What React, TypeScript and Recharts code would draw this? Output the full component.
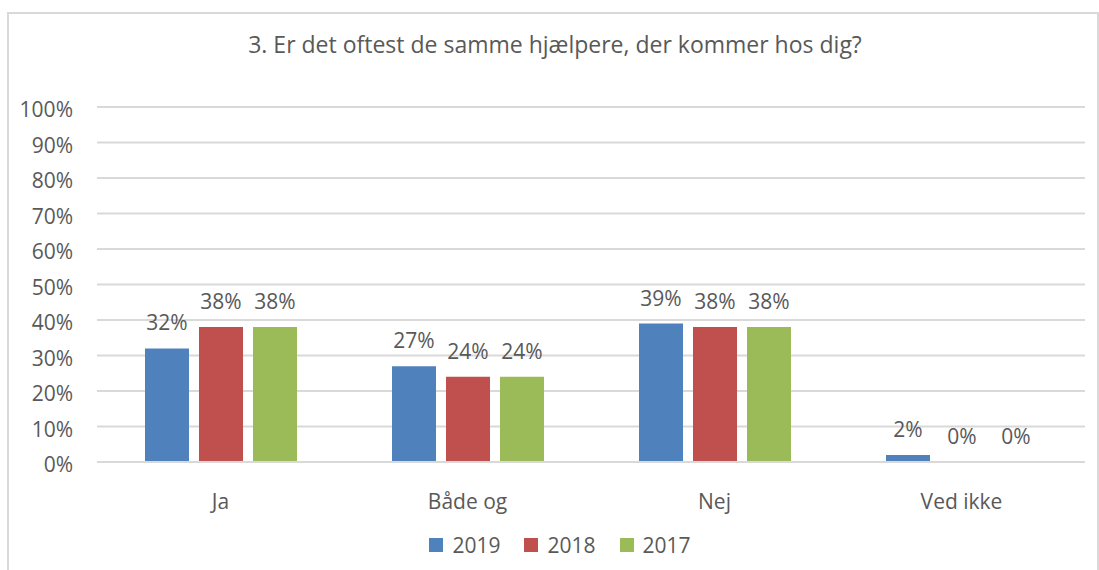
import { BarChart, Bar, XAxis, YAxis, CartesianGrid, Legend, LabelList } from "recharts";

const categories = ["Ja", "Både og", "Nej", "Ved ikke"];
const values2019 = [32, 27, 39, 2];
const values2018 = [38, 24, 38, 0];
const values2017 = [38, 24, 38, 0];
const yTicks = [0, 10, 20, 30, 40, 50, 60, 70, 80, 90, 100];

const series = [
  { key: "2019", color: "#4F81BD" },
  { key: "2018", color: "#C0504D" },
  { key: "2017", color: "#9BBB59" },
];

const data = categories.map((name, i) => ({
  name,
  "2019": values2019[i],
  "2018": values2018[i],
  "2017": values2017[i],
}));

const FONT = "'Open Sans', sans-serif";
const TEXT = "#595959";

function LegendContent() {
  return (
    <div style={{ display: "flex", justifyContent: "center", fontFamily: FONT, fontSize: 21, color: TEXT }}>
      {series.map((s) => (
        <div key={s.key} style={{ display: "flex", alignItems: "center", margin: "0 12px" }}>
          <span style={{ display: "inline-block", width: 14, height: 14, background: s.color, marginRight: 9 }} />
          <span>{s.key}</span>
        </div>
      ))}
    </div>
  );
}

export default function App() {
  return (
    <div style={{ position: "absolute", left: 0, top: 0, width: 1099, height: 570, background: "#fff", overflow: "hidden" }}>
      <div
        style={{
          position: "absolute",
          left: 7,
          top: 12,
          width: 1088,
          height: 600,
          border: "2px solid #d9d9d9",
        }}
      />
      <div
        style={{
          position: "absolute",
          left: 0,
          top: 28,
          width: 1110,
          textAlign: "center",
          fontFamily: FONT,
          fontSize: 23,
          color: TEXT,
        }}
      >
        3. Er det oftest de samme hjælpere, der kommer hos dig?
      </div>
      <div style={{ position: "absolute", left: 0, top: 0 }}>
        <BarChart
          width={1099}
          height={570}
          data={data}
          margin={{ top: 107, right: 14, bottom: 0, left: 0 }}
          barSize={44}
          barGap={10}
        >
          <CartesianGrid vertical={false} stroke="#d9d9d9" strokeWidth={2} />
          <XAxis
            dataKey="name"
            height={108}
            axisLine={{ stroke: "#d9d9d9", strokeWidth: 2 }}
            tickLine={false}
            tickMargin={26}
            tick={{ fill: TEXT, fontSize: 21, fontFamily: FONT }}
          />
          <YAxis
            width={97}
            domain={[0, 100]}
            ticks={yTicks}
            tickFormatter={(v) => `${v}%`}
            axisLine={false}
            tickLine={false}
            tickMargin={18}
            tick={{ fill: TEXT, fontSize: 21, fontFamily: FONT, dy: 3 }}
          />
          <Legend
            verticalAlign="middle"
            align="center"
            layout="horizontal"
            wrapperStyle={{ top: 531, left: 0, width: 1120 }}
            content={<LegendContent />}
          />
          {series.map((s) => (
            <Bar key={s.key} dataKey={s.key} fill={s.color} minPointSize={0.01} isAnimationActive={false}>
              <LabelList
                dataKey={s.key}
                position="top"
                offset={18}
                formatter={(v: any) => `${v}%`}
                style={{ fill: TEXT, fontSize: 21, fontFamily: FONT }}
              />
            </Bar>
          ))}
        </BarChart>
      </div>
    </div>
  );
}
